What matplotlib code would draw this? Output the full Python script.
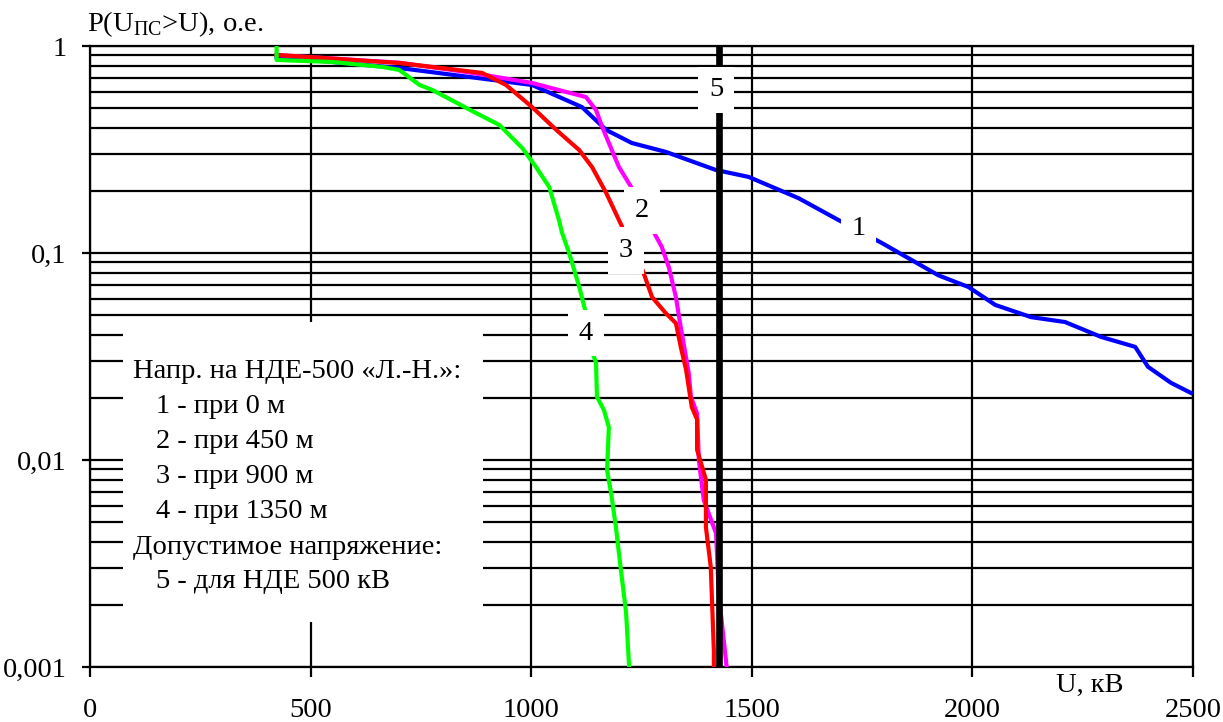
import matplotlib
matplotlib.use("Agg")
from matplotlib import pyplot as plt
from matplotlib.patches import Rectangle
from matplotlib.ticker import FixedLocator, FixedFormatter, NullFormatter

plt.rcParams['font.family'] = ['Liberation Serif', 'DejaVu Serif']
plt.rcParams['mathtext.fontset'] = 'custom'
plt.rcParams['mathtext.rm'] = 'Liberation Serif'

FS = 20.5

# curve 1 - at 0 m
u1 = [423, 701, 1002, 1115, 1170, 1228, 1305, 1418, 1493, 1606, 1692, 1794, 1923,
      1991, 2052, 2133, 2210, 2292, 2369, 2398, 2450, 2495]
p1 = [0.885, 0.783, 0.648, 0.507, 0.393, 0.340, 0.308, 0.252, 0.233, 0.184, 0.146,
      0.112, 0.078, 0.0685, 0.0561, 0.049, 0.0464, 0.0393, 0.0352, 0.0282, 0.0236, 0.0211]

# curve 2 - at 450 m
u2 = [423, 701, 853, 1002, 1079, 1124, 1147, 1161, 1176, 1199, 1228, 1251, 1271, 1296,
      1312, 1328, 1339, 1357, 1362, 1376, 1380, 1391, 1419, 1425, 1443]
p2 = [0.905, 0.83, 0.749, 0.663, 0.600, 0.567, 0.490, 0.406, 0.340, 0.260, 0.206, 0.161,
      0.134, 0.107, 0.0853, 0.0612, 0.0438, 0.0264, 0.0202, 0.0168, 0.010, 0.00642,
      0.00442, 0.00227, 0.001]

# curve 3 - at 900 m
u3 = [423, 701, 889, 943, 1002, 1057, 1109, 1138, 1170, 1206, 1215, 1251, 1274, 1305,
      1328, 1339, 1351, 1364, 1376, 1376, 1396, 1396, 1407, 1414, 1414]
p3 = [0.905, 0.828, 0.741, 0.648, 0.507, 0.393, 0.314, 0.260, 0.195, 0.134, 0.103,
      0.0844, 0.0612, 0.0512, 0.0458, 0.0352, 0.0273, 0.018, 0.0157, 0.0112, 0.00802,
      0.00474, 0.00304, 0.0012, 0.001]

# curve 4 - at 1350 m
u4 = [423, 423, 550, 663, 701, 747, 776, 853, 928, 980, 1011, 1041, 1063, 1070, 1086,
      1109, 1124, 1130, 1136, 1147, 1149, 1165, 1176, 1172, 1181, 1192, 1204, 1215, 1222]
p4 = [1.0, 0.856, 0.837, 0.792, 0.766, 0.648, 0.613, 0.502, 0.415, 0.321, 0.260, 0.208,
      0.144, 0.125, 0.100, 0.0685, 0.0512, 0.041, 0.0341, 0.0295, 0.0202, 0.0174, 0.0144,
      0.0089, 0.00694, 0.00474, 0.00286, 0.00184, 0.001]

# permissible voltage 5
u_allow = 1425

curve_labels = ["1", "2", "3", "4", "5"]
label_u = [1742, 1251, 1215, 1124, 1419]
label_p = [0.132, 0.161, 0.103, 0.041, 0.613]

legend_lines = ["Напр. на НДЕ-500 «Л.-Н.»:", "1 - при 0 м", "2 - при 450 м",
                "3 - при 900 м", "4 - при 1350 м", "Допустимое напряжение:",
                "5 - для НДЕ 500 кВ"]
legend_indent = [False, True, True, True, True, False, True]

x_ticks = [0, 500, 1000, 1500, 2000, 2500]
y_ticks = [0.001, 0.01, 0.1, 1]
y_tick_labels = ["0,001", "0,01", "0,1", "1"]

fig = plt.figure(figsize=(12.23, 7.22), dpi=100)
ax = fig.add_axes([90 / 1223, 1 - 667 / 722, 1103 / 1223, 621 / 722])

ax.set_yscale("log")
ax.set_xlim(0, 2500)
ax.set_ylim(0.001, 1)

minor = [m * 10.0 ** e for e in (-3, -2, -1) for m in range(2, 10)]
ax.yaxis.set_major_locator(FixedLocator(y_ticks))
ax.yaxis.set_major_formatter(FixedFormatter(y_tick_labels))
ax.yaxis.set_minor_locator(FixedLocator(minor))
ax.yaxis.set_minor_formatter(NullFormatter())
ax.xaxis.set_major_locator(FixedLocator(x_ticks))
ax.set_xticklabels([str(v) for v in x_ticks])

ax.grid(True, which="major", axis="both", color="black", lw=1.6, zorder=0)
ax.grid(True, which="minor", axis="y", color="black", lw=1.6, zorder=0)
ax.set_axisbelow(True)
ax.tick_params(axis="y", which="major", direction="out", length=6, width=1.6,
               labelsize=FS, pad=11)
ax.tick_params(axis="y", which="minor", length=0)
ax.tick_params(axis="x", direction="out", length=7, width=1.6, labelsize=FS, pad=15)
for s in ax.spines.values():
    s.set_linewidth(1.6)

# white legend area covering the grid
ax.add_patch(Rectangle((75, 0.00165), 816, 0.0464 - 0.00165, facecolor="white",
                       edgecolor="none", zorder=1))

ax.plot(u1, p1, color="#0000ff", lw=3, zorder=3)
ax.plot(u2, p2, color="#ff00ff", lw=3, zorder=3)
ax.plot(u3, p3, color="#ff0000", lw=3, zorder=4)
ax.plot(u4, p4, color="#00ff00", lw=3, zorder=4)
ax.plot([u_allow, u_allow], [0.001, 1], color="black", lw=4.8, zorder=5)

for t, u, p in zip(curve_labels, label_u, label_p):
    ax.text(u, p, t, fontsize=FS, ha="center", va="center", zorder=6,
            bbox=dict(boxstyle="square,pad=0.38", facecolor="white", edgecolor="none"))

y0 = (667 - 372) / 621
dy = 35 / 621
for i, (line, ind) in enumerate(zip(legend_lines, legend_indent)):
    x = (156 - 90) / 1103 if ind else (133 - 90) / 1103
    ax.text(x, y0 - i * dy, line, transform=ax.transAxes, fontsize=FS,
            ha="left", va="center", zorder=7)

fig.text(87 / 1223, 1 - 24 / 722, r"P(U$_{\mathrm{ПС}}$>U), о.е.", fontsize=FS,
         ha="left", va="center")
fig.text(1090 / 1223, 1 - 685 / 722, "U, кВ", fontsize=FS, ha="center", va="center")

fig.savefig("out.png", dpi=100)
